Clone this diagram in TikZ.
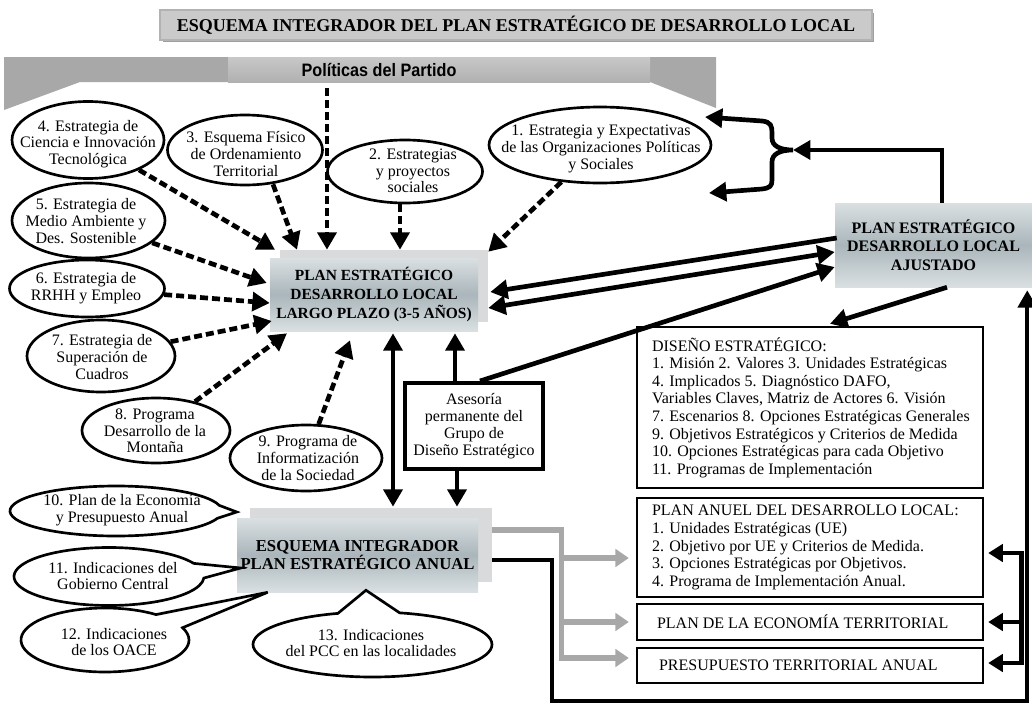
\documentclass[tikz,border=0pt]{standalone}
\usepackage{fontspec}
\setmainfont{Liberation Serif}
\setsansfont{Liberation Sans}
\usetikzlibrary{arrows.meta,shapes.geometric,shapes.callouts,calc}
\definecolor{bannergray}{RGB}{168,168,168}
\definecolor{polA}{RGB}{200,200,200}
\definecolor{polB}{RGB}{176,176,176}
\definecolor{titlegray}{RGB}{202,202,202}
\definecolor{cloudA}{RGB}{218,224,226}
\definecolor{cloudB}{RGB}{170,182,187}
\definecolor{shadowgray}{RGB}{216,218,219}
\definecolor{arrowgray}{RGB}{168,168,168}
\begin{document}
\begin{tikzpicture}[x=0.75pt,y=-0.75pt,
  oval/.style={draw, ellipse, line width=2pt, fill=white, inner sep=0pt},
  bubble/.style={draw, ellipse callout, line width=2pt, fill=white, inner sep=0pt, callout pointer arc=30},
  txt/.style={align=center, inner sep=0pt, font=\fontsize{12}{12.5}\selectfont},
  boxtxt/.style={align=left, inner sep=0pt, anchor=west, font=\fontsize{12}{13.2}\selectfont},
  cloudbox/.style={rectangle, inner sep=0pt, top color=cloudA, bottom color=cloudA, middle color=cloudB, align=center, font=\fontsize{12}{14}\selectfont\bfseries},
  shadowbox/.style={rectangle, inner sep=0pt, fill=shadowgray},
  plainbox/.style={draw, rectangle, line width=1.8pt, inner sep=0pt, fill=white},
  dasharrow/.style={line width=3.5pt, dash pattern=on 6pt off 3pt, -{Triangle[length=13pt,width=14pt]}},
  barrow/.style={line width=3.5pt, -{Triangle[length=13pt,width=14pt]}},
  bline/.style={line width=3.5pt},
  garrow/.style={line width=4pt, draw=arrowgray, -{Triangle[length=10pt,width=13pt]}}
]
\useasboundingbox (0,0) rectangle (1032,703);
\fill[white] (0,0) rectangle (1032,703);

% title
\fill[gray!75] (163,13) rectangle (874,42);
\node[rectangle, fill=titlegray, draw=gray!60, line width=0.8pt, inner sep=0pt,
      minimum width=712*.75pt, minimum height=30*.75pt,
      font=\fontsize{13.5}{15}\selectfont\bfseries] (title) at (516,25)
      {ESQUEMA INTEGRADOR DEL PLAN ESTRATÉGICO DE DESARROLLO LOCAL};

% banner
\fill[bannergray] (4,57) -- (716,57) -- (716,108) -- (650,82) -- (80,82) -- (4,110) -- cycle;
\node[rectangle, inner sep=0pt, top color=polA, bottom color=polB,
      minimum width=422*.75pt, minimum height=25*.75pt] (pol) at (439,69.5) {};
\node[inner sep=0pt, font=\fontsize{13.5}{15}\sffamily\bfseries] (polt) at (379,70)
      {\scalebox{0.9}[1]{Políticas del Partido}};

% ellipses
\node[oval, minimum width=152*.75pt, minimum height=77*.75pt] (e4) at (88,140) {};
\node[txt] (e4t) at (88,144) {4. Estrategia de\\Ciencia e Innovación\\Tecnológica};
\node[oval, minimum width=155*.75pt, minimum height=70*.75pt] (e3) at (245,150) {};
\node[txt] (e3t) at (246,154) {3. Esquema Físico\\de Ordenamiento\\Territorial};
\node[oval, minimum width=155*.75pt, minimum height=63*.75pt] (e2) at (405,171.5) {};
\node[txt] (e2t) at (413,171) {2. Estrategias\\y proyectos\\sociales};
\node[oval, minimum width=222*.75pt, minimum height=76*.75pt] (e1) at (600,145) {};
\node[txt] (e1t) at (601,149) {1. Estrategia y Expectativas\\de las Organizaciones Políticas\\y Sociales};
\node[oval, minimum width=153*.75pt, minimum height=75*.75pt] (e5) at (88.5,220.5) {};
\node[txt] (e5t) at (86,221) {5. Estrategia de\\Medio Ambiente y\\Des. Sostenible};
\node[oval, minimum width=155*.75pt, minimum height=57*.75pt] (e6) at (87,288.5) {};
\node[txt] (e6t) at (86,288) {6. Estrategia de\\RRHH y Empleo};
\node[oval, minimum width=148*.75pt, minimum height=72*.75pt] (e7) at (101,356) {};
\node[txt] (e7t) at (102,357) {7. Estrategia de\\Superación de\\Cuadros};
\node[oval, minimum width=148*.75pt, minimum height=65*.75pt] (e8) at (156,430.5) {};
\node[txt] (e8t) at (155,431) {8. Programa\\Desarrollo de la\\Montaña};
\node[oval, minimum width=152*.75pt, minimum height=66*.75pt] (e9) at (306,458) {};
\node[txt] (e9t) at (308,458) {9. Programa de\\Informatización\\de la Sociedad};

% central boxes
\node[shadowbox, minimum width=208*.75pt, minimum height=72*.75pt] (largoB) at (384,286) {};
\node[cloudbox, minimum width=208*.75pt, minimum height=73*.75pt, font=\fontsize{11.6}{14.5}\selectfont\bfseries] (largo) at (374,294.5)
     {PLAN ESTRATÉGICO\\DESARROLLO LOCAL\\LARGO PLAZO (3-5 AÑOS)};
\node[cloudbox, minimum width=197*.75pt, minimum height=84*.75pt] (aj) at (933.5,245)
     {PLAN ESTRATÉGICO\\DESARROLLO LOCAL\\AJUSTADO};
\node[shadowbox, minimum width=242*.75pt, minimum height=74*.75pt] (esqB) at (371,545) {};
\node[cloudbox, minimum width=241*.75pt, minimum height=74*.75pt, font=\fontsize{12.5}{14}\selectfont\bfseries] (esq) at (357.5,555)
     {ESQUEMA INTEGRADOR\\PLAN ESTRATÉGICO ANUAL};
\node[draw, rectangle, line width=3pt, fill=white, inner sep=0pt, align=center,
      minimum width=138*.75pt, minimum height=86*.75pt,
      font=\fontsize{12}{12.8}\selectfont] (ase) at (474,426)
     {Asesoría\\permanente del\\Grupo de\\Diseño Estratégico};

% right boxes
\node[plainbox, minimum width=346*.75pt, minimum height=161*.75pt] (dis) at (810,407.5) {};
\node[boxtxt] (dist) at ($(dis.west)+(16,0)$)
  {DISEÑO ESTRATÉGICO:\\1. Misión 2. Valores 3. Unidades Estratégicas\\4. Implicados 5. Diagnóstico DAFO,\\Variables Claves, Matriz de Actores 6. Visión\\7. Escenarios 8. Opciones Estratégicas Generales\\9. Objetivos Estratégicos y Criterios de Medida\\10. Opciones Estratégicas para cada Objetivo\\11. Programas de Implementación};
\node[plainbox, minimum width=346*.75pt, minimum height=99*.75pt] (anuel) at (810,547.5) {};
\node[boxtxt] (anuelt) at ($(anuel.west)+(16,0)$)
  {PLAN ANUEL DEL DESARROLLO LOCAL:\\1. Unidades Estratégicas (UE)\\2. Objetivo por UE y Criterios de Medida.\\3. Opciones Estratégicas por Objetivos.\\4. Programa de Implementación Anual.};
\node[plainbox, minimum width=346*.75pt, minimum height=36*.75pt] (econ) at (810,622) {};
\node[boxtxt] (econt) at ($(econ.west)+(21,0)$) {PLAN DE LA ECONOMÍA TERRITORIAL};
\node[plainbox, minimum width=346*.75pt, minimum height=35*.75pt] (pres) at (810,665.5) {};
\node[boxtxt] (prest) at ($(pres.west)+(23,0)$) {PRESUPUESTO TERRITORIAL ANUAL};

% callouts
\coordinate (p10) at ($(esq.west)+(0,-43)$);
\coordinate (p11) at ($(esq.west)+(4,13)$);
\coordinate (p12) at ($(esq.south west)+(31,0)$);
\coordinate (p13) at ($(esq.south)+(8.5,-2)$);
\node[bubble, minimum width=212*.75pt, minimum height=50*.75pt, callout absolute pointer={(p10)}] (c10) at (116,511) {};
\node[txt] (c10t) at (122,510) {10. Plan de la Economía\\y Presupuesto Anual};
\node[bubble, minimum width=190*.75pt, minimum height=58*.75pt, callout absolute pointer={(p11)}] (c11) at (109,576.5) {};
\node[txt] (c11t) at (113,576) {11. Indicaciones del\\Gobierno Central};
\node[bubble, minimum width=168*.75pt, minimum height=64*.75pt, callout absolute pointer={(p12)}] (c12) at (105,640) {};
\node[txt] (c12t) at (114,642) {12. Indicaciones\\de los OACE};
\node[bubble, minimum width=239*.75pt, minimum height=65*.75pt, callout absolute pointer={(p13)}] (c13) at (372.5,644.5) {};
\node[txt] (c13t) at (371,643) {13. Indicaciones\\del PCC en las localidades};

% dashed arrows into Largo plazo
\draw[dasharrow] ($(pol.south)+(-112,6)$) -- ($(largoB.north)+(-57,0)$);
\draw[dasharrow] (e4) -- ($(largoB.north)+(-109,0)$);
\draw[dasharrow] ($(e3.south)+(28,-2)$) -- ($(largoB.north)+(-87,0)$);
\draw[dasharrow] ($(e2.south)+(-5,0)$) -- ($(largoB.north)+(16,0)$);
\draw[dasharrow] (e1) -- ($(largoB.north east)+(0,2)$);
\draw[dasharrow] (e5) -- ($(largo.west)+(-3,-11.5)$);
\draw[dasharrow] (e6) -- ($(largo.west)+(0,8.5)$);
\draw[dasharrow] (e7) -- ($(largo.west)+(2,26.5)$);
\draw[dasharrow] (e8) -- ($(largo.south)+(-87,2)$);
\draw[dasharrow] (e9) -- ($(largo.south)+(-24,9)$);

% solid black arrows
\draw[barrow, {Triangle[length=13pt,width=14pt]}-{Triangle[length=13pt,width=14pt]}]
     ($(largo.south)+(19,2)$) -- ($(esqB.north)+(22,-1)$);
\draw[barrow] ($(ase.north)+(-19,0)$) -- ($(largo.south)+(81,2)$);
\draw[barrow] ($(ase.south)+(-17,0)$) -- ($(esqB.north)+(86,-1)$);
\draw[barrow] ($(ase.north)+(6,0)$) -- ($(aj.west)+(0,22)$);
\draw[barrow] ($(aj.west)+(2,-7)$) -- ($(largoB.east)+(2,6)$);
\draw[barrow, {Triangle[length=13pt,width=14pt]}-{Triangle[length=13pt,width=14pt]}]
     ($(largoB.east)+(0,22)$) -- ($(aj.west)+(0,7)$);
\draw[barrow] ($(aj.south)+(13.5,0)$) -- ($(dis.north)+(20,-2)$);

% brace at top right
\coordinate (bt) at (705,117);
\coordinate (bb) at (709,193);
\coordinate (bc) at (793,150);
\draw[bline, {Triangle[length=13pt,width=14pt]}-{Triangle[length=13pt,width=14pt]}]
  (bt) -- (762,121) .. controls (771,122) and (772,126) .. (772,133)
  -- (772,138) .. controls (772,146) and (780,150) .. (bc)
  .. controls (780,150) and (772,154) .. (772,162)
  -- (772,180) .. controls (772,186) and (770,188) .. (762,189) -- (bb);
\draw[barrow] ($(aj.north)+(8.5,0)$) |- (bc);

% gray arrows from Esquema anual
\draw[garrow] ($(esqB.east)+(0,-15)$) -| ($(pres.west)+(-74,-7.5)$) -- ($(pres.west)+(-7,-7.5)$);
\draw[garrow] ($(anuel.west)+(-74,10.5)$) -- ($(anuel.west)+(-7,10.5)$);
\draw[garrow] ($(econ.west)+(-74,0)$) -- ($(econ.west)+(-7,0)$);

% black frame line from Esquema anual to Ajustado
\draw[line width=3pt, -{Triangle[length=13pt,width=14pt]}]
  ($(esqB.east)+(0,15)$) -| (552,701) -| ($(aj.south east)+(-5,3)$);

% right double arrows
\draw[bline, {Triangle[length=11pt,width=13pt]}-{Triangle[length=11pt,width=13pt]}]
  ($(anuel.east)+(4,5.5)$) -| ($(econ.east)+(37,0)$) |- ($(pres.east)+(4,-2.5)$);
\draw[bline, -{Triangle[length=11pt,width=13pt]}] ($(econ.east)+(37,0)$) -- ($(econ.east)+(4,0)$);
\end{tikzpicture}
\end{document}
